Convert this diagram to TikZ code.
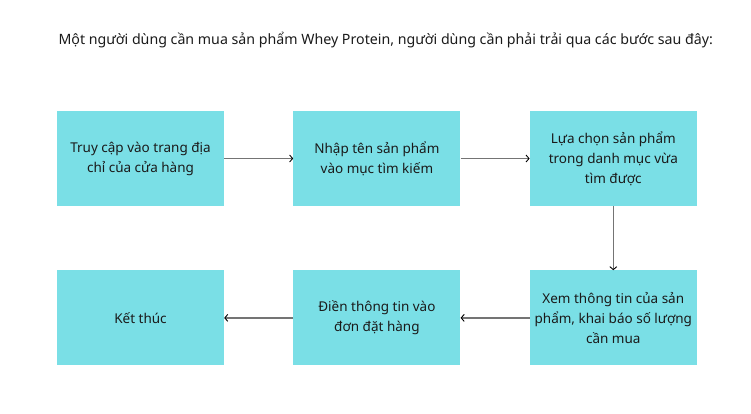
\documentclass[tikz,border=0pt]{standalone}
\usepackage{fontspec}
\setmainfont{Noto Sans}
\usetikzlibrary{positioning}
\usetikzlibrary{arrows.meta}
\definecolor{boxcyan}{HTML}{7ADFE6}
\definecolor{linegray}{HTML}{747474}
\definecolor{textdark}{HTML}{1A1A1A}

\begin{document}
\begin{tikzpicture}[x=1pt,y=-1pt,
  stepbox/.style={fill=boxcyan, minimum width=167pt, minimum height=95pt, inner sep=0pt, align=center, text=textdark, font=\fontsize{13.5}{20}\selectfont},
  flow/.style={draw=linegray, line width=1.6pt, -{Straight Barb[length=3pt,width=7pt,line width=0.9pt,color=black]}},
  node distance=64pt and 69pt]

\useasboundingbox (0,0) rectangle (751,413);

\node[anchor=base west, text=textdark, font=\fontsize{14.2}{16}\selectfont] (title) at (55,44) {Một người dùng cần mua sản phẩm Whey Protein, người dùng cần phải trải qua các bước sau đây:};

\node[stepbox] (truycap) at (140.5,158.5) {Truy cập vào trang địa\\chỉ của cửa hàng};
\node[stepbox, right=of truycap] (nhapten) {Nhập tên sản phẩm\\vào mục tìm kiếm};
\node[stepbox, right=of nhapten] (luachon) {Lựa chọn sản phẩm\\trong danh mục vừa\\tìm được};

\node[stepbox, below=of luachon] (xemtt) {Xem thông tin của sản\\phẩm, khai báo số lượng\\cần mua};
\node[stepbox, left=of xemtt] (dienTT) {Điền thông tin vào\\đơn đặt hàng};
\node[stepbox, left=of dienTT] (ketthuc) {Kết thúc};

\draw[flow] (truycap) -- (nhapten);
\draw[flow] (nhapten) -- (luachon);
\draw[flow] (luachon) -- (xemtt);
\draw[flow] (xemtt) -- (dienTT);
\draw[flow] (dienTT) -- (ketthuc);

\end{tikzpicture}
\end{document}
